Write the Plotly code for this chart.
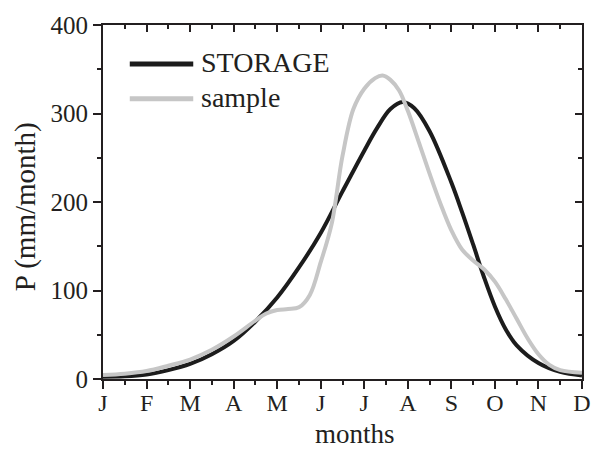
import plotly.graph_objects as go

month_labels = ['J', 'F', 'M', 'A', 'M', 'J', 'J', 'A', 'S', 'O', 'N', 'D']
month_pos = list(range(12))

storage_x = [0, 0.5, 1, 1.5, 2, 2.5, 3, 3.5, 4, 4.5, 5, 5.5, 6, 6.3, 6.6, 6.88, 7.15, 7.5, 8, 8.25, 8.5, 8.75, 9, 9.25, 9.5, 10, 10.5, 11]
storage_y = [2.6, 3, 5, 10, 17, 28, 43, 65, 92, 126, 165, 212, 258, 284, 305, 313, 306, 280, 222, 188, 152, 115, 82, 56, 38, 18, 8, 4]

sample_x = [0, 0.5, 1, 1.5, 2, 2.5, 3, 3.5, 3.75, 4, 4.25, 4.5, 4.75, 5, 5.25, 5.5, 5.75, 6, 6.25, 6.42, 6.6, 6.8, 7, 7.25, 7.5, 7.75, 8, 8.25, 8.5, 8.75, 9, 9.25, 9.5, 9.75, 10, 10.25, 10.5, 11]
sample_y = [4.5, 6, 9, 15, 22, 33, 48, 66, 74, 78, 79, 81, 95, 132, 175, 252, 305, 328, 340, 343, 338, 326, 303, 268, 232, 198, 168, 146, 134, 124, 110, 90, 68, 46, 28, 16, 10, 7]

series_names = ['STORAGE', 'sample']
series_colors = ['#1c1c1c', '#c6c6c6']

FONT = 'Liberation Serif'
INK = '#231f20'

fig = go.Figure()
fig.add_trace(go.Scatter(x=storage_x, y=storage_y, mode='lines', line=dict(color=series_colors[0], width=4, shape='spline', smoothing=1.0), name=series_names[0], showlegend=False))
fig.add_trace(go.Scatter(x=sample_x, y=sample_y, mode='lines', line=dict(color=series_colors[1], width=4, shape='spline', smoothing=1.0), name=series_names[1], showlegend=False))
fig.add_trace(go.Scatter(x=[None], y=[None], xaxis='x2', yaxis='y2', showlegend=False, hoverinfo='skip'))

L, R, T, B = 103, 586, 24, 379
def px(x):
    return (x - L) / (R - L)
def py(y):
    return (B - y) / (B - T)

# legend drawn manually
for name, col, yy in zip(series_names, series_colors, [63, 98]):
    fig.add_shape(type='line', xref='paper', yref='paper', x0=px(130), x1=px(194), y0=py(yy), y1=py(yy), line=dict(color=col, width=5))
    fig.add_annotation(xref='paper', yref='paper', x=px(200), y=py(yy - 1), text=name, showarrow=False, xanchor='left', yanchor='middle', font=dict(family=FONT, size=28, color=INK))

# axis titles
fig.add_annotation(xref='paper', yref='paper', x=px(357), y=py(434), text='months', showarrow=False, xanchor='center', yanchor='middle', font=dict(family=FONT, size=27, color=INK))
fig.add_annotation(xref='paper', yref='paper', x=px(25), y=py(206), text='P (mm/month)', textangle=-90, showarrow=False, xanchor='center', yanchor='middle', font=dict(family=FONT, size=29, color=INK))

axis_common = dict(showgrid=False, zeroline=False, linecolor=INK, linewidth=2, tickcolor=INK, tickwidth=2)

fig.update_layout(
    width=603, height=449,
    margin=dict(l=L, r=603 - R, t=T, b=449 - B),
    paper_bgcolor='white', plot_bgcolor='white',
    font=dict(family=FONT, color=INK),
    xaxis=dict(range=[0, 11], tickvals=month_pos, ticktext=month_labels, ticks='outside', ticklen=8,
               tickfont=dict(family=FONT, size=24, color=INK), ticklabelstandoff=-7,
               minor=dict(tickvals=[m + 0.5 for m in month_pos[:-1]], ticklen=4, tickwidth=2, tickcolor=INK, ticks='outside'),
               **axis_common),
    yaxis=dict(range=[0, 400], tickvals=[0, 100, 200, 300, 400], ticks='outside', ticklen=8,
               tickfont=dict(family=FONT, size=25, color=INK),
               minor=dict(tickvals=[50, 150, 250, 350], ticklen=4, tickwidth=2, tickcolor=INK, ticks='outside'),
               **axis_common),
    xaxis2=dict(overlaying='x', side='top', range=[0, 11], tickvals=month_pos, ticks='inside', ticklen=7,
                showticklabels=False,
                minor=dict(tickvals=[m + 0.5 for m in month_pos[:-1]], ticklen=4, tickwidth=2, tickcolor=INK, ticks='inside'),
                **axis_common),
    yaxis2=dict(overlaying='y', side='right', range=[0, 400], tickvals=[0, 100, 200, 300, 400], ticks='inside', ticklen=7,
                showticklabels=False,
                minor=dict(tickvals=[50, 150, 250, 350], ticklen=4, tickwidth=2, tickcolor=INK, ticks='inside'),
                **axis_common),
)

fig.write_html('out.html')
